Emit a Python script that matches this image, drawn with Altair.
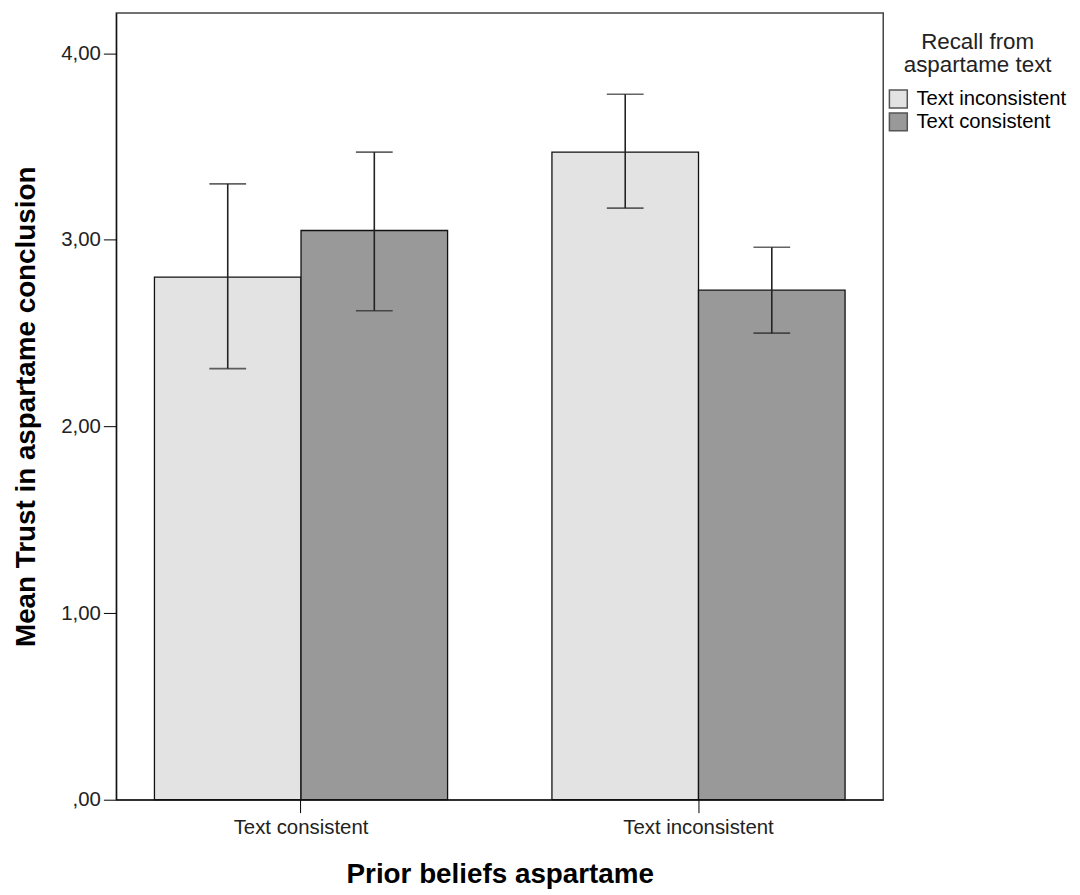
import altair as alt
import pandas as pd

prior = ["Text consistent", "Text consistent", "Text inconsistent", "Text inconsistent"]
recall = ["Text inconsistent", "Text consistent", "Text inconsistent", "Text consistent"]
mean = [2.80, 3.05, 3.47, 2.73]
upper = [3.30, 3.47, 3.78, 2.96]
lower = [2.31, 2.62, 3.17, 2.50]

prior_order = ["Text consistent", "Text inconsistent"]
recall_order = ["Text inconsistent", "Text consistent"]
fills = ["#e3e3e3", "#999999"]

df = pd.DataFrame({"prior": prior, "recall": recall, "mean": mean,
                   "upper": upper, "lower": lower})

FONT = "Liberation Sans"

x = alt.X("prior:N", sort=prior_order,
          scale=alt.Scale(paddingInner=0.2625, paddingOuter=0.096),
          axis=alt.Axis(title="Prior beliefs aspartame", labelAngle=0,
                        tickSize=13, labelPadding=5, titlePadding=23,
                        labelFontSize=20.5, titleFontSize=28, titleFontWeight="bold",
                        labelColor="#222", titleColor="#000",
                        domainColor="#000", tickColor="#000",
                        labelFont=FONT, titleFont=FONT))
xoff = alt.XOffset("recall:N", sort=recall_order,
                   scale=alt.Scale(paddingInner=0, paddingOuter=0))
y = alt.Y("mean:Q",
          scale=alt.Scale(domain=[0, 4.216], nice=False, zero=True),
          axis=alt.Axis(title="Mean Trust in aspartame conclusion",
                        values=[0, 1, 2, 3, 4], grid=False,
                        labelExpr="datum.value == 0 ? ',00' : replace(format(datum.value, '.2f'), '.', ',')",
                        tickSize=13, labelPadding=3, titlePadding=20,
                        labelFontSize=20.5, titleFontSize=28, titleFontWeight="bold",
                        labelColor="#222", titleColor="#000",
                        domainColor="#000", tickColor="#000",
                        labelFont=FONT, titleFont=FONT))

color = alt.Color("recall:N", sort=recall_order,
                  scale=alt.Scale(domain=recall_order, range=fills),
                  legend=alt.Legend(title=["Recall from", "aspartame text"],
                                    orient="none", legendX=777, legendY=18,
                                    titleFontSize=22.5, titleFontWeight="normal",
                                    titleLineHeight=24, titleAlign="center",
                                    titleAnchor="middle", titlePadding=12,
                                    titleColor="#222", titleFont=FONT,
                                    labelFontSize=20.4, labelColor="#000", labelFont=FONT,
                                    symbolType="square", symbolSize=324,
                                    symbolStrokeColor="#555", symbolStrokeWidth=1.5,
                                    symbolOffset=0, labelOffset=8, rowPadding=-3,
                                    padding=0))

bars = alt.Chart(df).mark_bar(stroke="#111", strokeWidth=1.3).encode(
    x=x, xOffset=xoff, y=y, color=color)

rules = alt.Chart(df).mark_rule(color="#222", strokeWidth=1.6).encode(
    x=alt.X("prior:N", sort=prior_order), xOffset=alt.XOffset("recall:N", sort=recall_order),
    y="lower:Q", y2="upper:Q")

caps_top = alt.Chart(df).mark_tick(color="#222", thickness=1.6, size=37).encode(
    x=alt.X("prior:N", sort=prior_order), xOffset=alt.XOffset("recall:N", sort=recall_order),
    y="upper:Q")
caps_bot = alt.Chart(df).mark_tick(color="#222", thickness=1.6, size=37).encode(
    x=alt.X("prior:N", sort=prior_order), xOffset=alt.XOffset("recall:N", sort=recall_order),
    y="lower:Q")

chart = (bars + rules + caps_top + caps_bot).properties(
    width=772, height=792,
    padding={"left": 5, "top": 2, "right": 5, "bottom": 5}
).configure(
    background="white",
    view=alt.ViewConfig(stroke="#444", strokeWidth=1.5)
)

chart.save("out.html", embed_options={"renderer": "svg", "actions": False})
